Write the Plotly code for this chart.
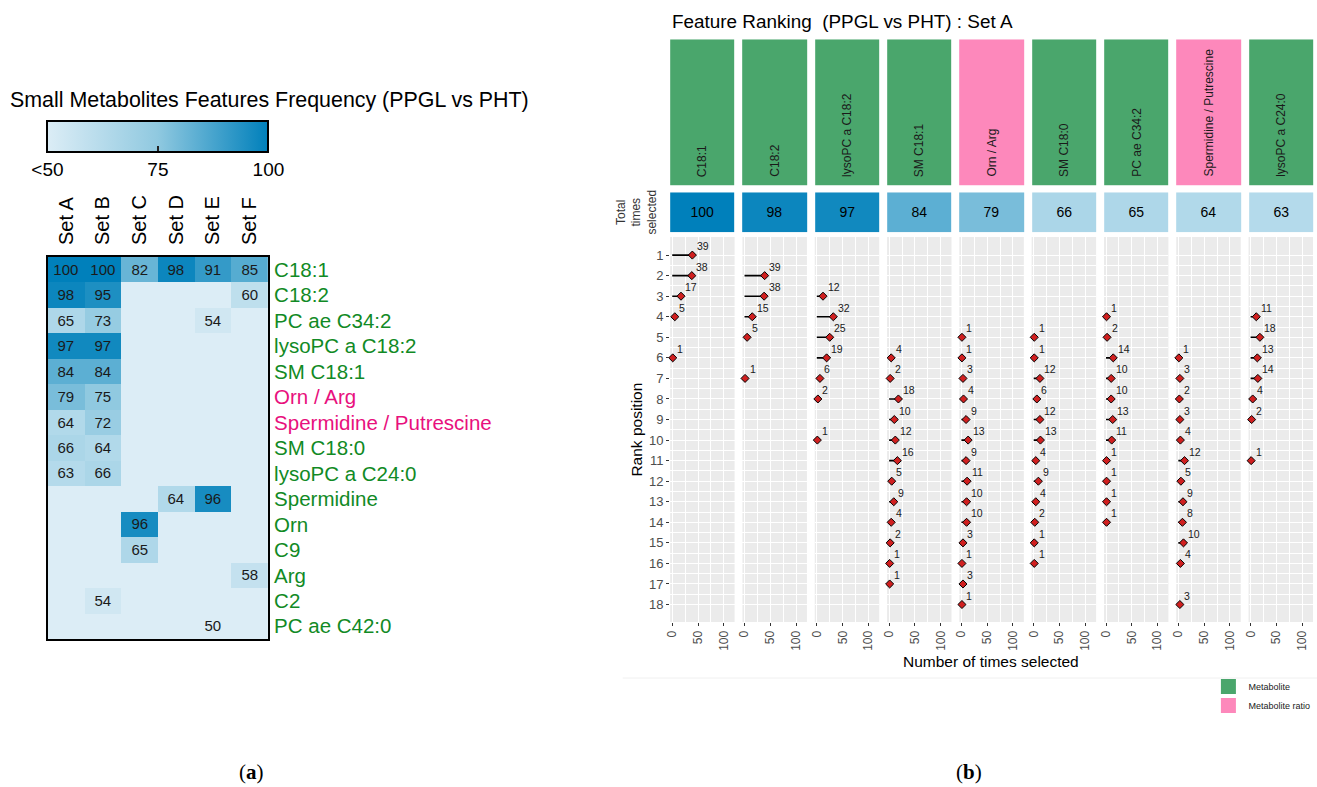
import plotly.graph_objects as go
import numpy as np

W, H = 1317, 787
FONT = "Liberation Sans"

# ---------------- Panel (a): heatmap data ----------------
sets = ["Set A", "Set B", "Set C", "Set D", "Set E", "Set F"]
features = ["C18:1", "C18:2", "PC ae C34:2", "lysoPC a C18:2", "SM C18:1", "Orn / Arg",
            "Spermidine / Putrescine", "SM C18:0", "lysoPC a C24:0", "Spermidine", "Orn",
            "C9", "Arg", "C2", "PC ae C42:0"]
ratio_features = ["Orn / Arg", "Spermidine / Putrescine"]
set_a = [100, 98, 65, 97, 84, 79, 64, 66, 63, None, None, None, None, None, None]
set_b = [100, 95, 73, 97, 84, 75, 72, 64, 66, None, None, None, None, 54, None]
set_c = [82, None, None, None, None, None, None, None, None, None, 96, 65, None, None, None]
set_d = [98, None, None, None, None, None, None, None, None, 64, None, None, None, None, None]
set_e = [91, None, 54, None, None, None, None, None, None, 96, None, None, None, None, 50]
set_f = [85, 60, None, None, None, None, None, None, None, None, None, None, 58, None, None]
colorbar_ticks = [50, 75, 100]
colorbar_ticktext = ["&lt;50", "75", "100"]

# ---------------- Panel (b): ranking data ----------------
facets = ["C18:1", "C18:2", "lysoPC a C18:2", "SM C18:1", "Orn / Arg", "SM C18:0",
          "PC ae C34:2", "Spermidine / Putrescine", "lysoPC a C24:0"]
facet_types = ["Metabolite", "Metabolite", "Metabolite", "Metabolite", "Metabolite ratio",
               "Metabolite", "Metabolite", "Metabolite ratio", "Metabolite"]
totals = [100, 98, 97, 84, 79, 66, 65, 64, 63]
ranks_c18_1 = [1, 2, 3, 4, 6]
counts_c18_1 = [39, 38, 17, 5, 1]
ranks_c18_2 = [2, 3, 4, 5, 7]
counts_c18_2 = [39, 38, 15, 5, 1]
ranks_lyso_c18_2 = [3, 4, 5, 6, 7, 8, 10]
counts_lyso_c18_2 = [12, 32, 25, 19, 6, 2, 1]
ranks_sm_c18_1 = [6, 7, 8, 9, 10, 11, 12, 13, 14, 15, 16, 17]
counts_sm_c18_1 = [4, 2, 18, 10, 12, 16, 5, 9, 4, 2, 1, 1]
ranks_orn_arg = [5, 6, 7, 8, 9, 10, 11, 12, 13, 14, 15, 16, 17, 18]
counts_orn_arg = [1, 1, 3, 4, 9, 13, 9, 11, 10, 10, 3, 1, 3, 1]
ranks_sm_c18_0 = [5, 6, 7, 8, 9, 10, 11, 12, 13, 14, 15, 16]
counts_sm_c18_0 = [1, 1, 12, 6, 12, 13, 4, 9, 4, 2, 1, 1]
ranks_pc_ae_c34_2 = [4, 5, 6, 7, 8, 9, 10, 11, 12, 13, 14]
counts_pc_ae_c34_2 = [1, 2, 14, 10, 10, 13, 11, 1, 1, 1, 1]
ranks_spd_put = [6, 7, 8, 9, 10, 11, 12, 13, 14, 15, 16, 18]
counts_spd_put = [1, 3, 2, 3, 4, 12, 5, 9, 8, 10, 4, 3]
ranks_lyso_c24_0 = [4, 5, 6, 7, 8, 9, 11]
counts_lyso_c24_0 = [11, 18, 13, 14, 4, 2, 1]
rank_ticks = list(range(1, 19))
count_ticks = [0, 50, 100]

facet_ranks = [ranks_c18_1, ranks_c18_2, ranks_lyso_c18_2, ranks_sm_c18_1, ranks_orn_arg,
               ranks_sm_c18_0, ranks_pc_ae_c34_2, ranks_spd_put, ranks_lyso_c24_0]
facet_counts = [counts_c18_1, counts_c18_2, counts_lyso_c18_2, counts_sm_c18_1, counts_orn_arg,
                counts_sm_c18_0, counts_pc_ae_c34_2, counts_spd_put, counts_lyso_c24_0]

# ---------------- styles ----------------
CS = [[0, "#dcedf6"], [0.5, "#90c9e0"], [1, "#0080bb"]]
GREEN_TXT = "#118a25"
PINK_TXT = "#e8107d"
STRIP_COL = {"Metabolite": "#4aa66c", "Metabolite ratio": "#fd88bb"}


def px(x):
    return x / W


def py(y):
    return 1 - y / H


fig = go.Figure()
layout = dict(width=W, height=H, margin=dict(l=0, r=0, t=0, b=0),
              paper_bgcolor="white", plot_bgcolor="white",
              font=dict(family=FONT, color="black"), showlegend=True)
annotations = []
shapes = []

# ---------------- heatmap (a) ----------------
cols = [set_a, set_b, set_c, set_d, set_e, set_f]
zr = np.array([[np.nan if v is None else v for v in c] for c in cols], dtype=float).T
z_disp = np.where(np.isnan(zr), colorbar_ticks[0], zr)
txt = [["" if np.isnan(v) else str(int(v)) for v in row] for row in zr]

fig.add_trace(go.Heatmap(
    x=sets, y=features, z=z_disp, text=txt, texttemplate="%{text}",
    textfont=dict(size=15, color="#1a1a1a", family=FONT),
    colorscale=CS, zmin=50, zmax=100, hoverinfo="skip", showlegend=False,
    xaxis="x", yaxis="y",
    colorbar=dict(orientation="h", x=px(153.5), xanchor="center", y=py(120.5), yanchor="top",
                  len=221, lenmode="pixels", thickness=31, thicknessmode="pixels",
                  xpad=0, ypad=0, outlinewidth=2, outlinecolor="black",
                  tickvals=colorbar_ticks, ticktext=colorbar_ticktext,
                  ticks="inside", ticklen=7, tickwidth=2, tickcolor="#222",
                  tickfont=dict(size=19, family=FONT, color="black"))
))
row_text = [f'<span style="color:{PINK_TXT if f in ratio_features else GREEN_TXT}">{f}</span>'
            for f in features]
layout["xaxis"] = dict(domain=[px(43), px(264)], anchor="y", side="top", type="category",
                       tickangle=-90, tickfont=dict(size=20, family=FONT, color="black"),
                       showgrid=False, zeroline=False, ticks="", ticklabelstandoff=6,
                       showline=True, mirror=True, linewidth=2, linecolor="black")
layout["yaxis"] = dict(domain=[py(639), py(257)], anchor="x", side="right", type="category",
                       autorange="reversed", tickvals=features, ticktext=row_text,
                       tickfont=dict(size=20.5, family=FONT), showgrid=False, zeroline=False,
                       ticks="", ticklabelstandoff=0,
                       showline=True, mirror=True, linewidth=2, linecolor="black")
annotations.append(dict(text="Small Metabolites Features Frequency (PPGL vs PHT)",
                        x=px(266), y=py(100), xref="paper", yref="paper", showarrow=False,
                        xanchor="center", yanchor="middle",
                        font=dict(size=21.4, family=FONT, color="black")))

# ---------------- ranking facets (b) ----------------
X0, STEP, FW = 667.7, 72.575, 64.7
for k in range(9):
    n = k + 2
    xa, ya = f"x{n}", f"y{n}"
    x0 = X0 + k * STEP
    r, c = facet_ranks[k], facet_counts[k]
    sx, sy = [], []
    for ri, ci in zip(r, c):
        sx += [0, ci, None]
        sy += [ri, ri, None]
    fig.add_trace(go.Scatter(x=sx, y=sy, mode="lines", line=dict(color="black", width=1.6),
                             hoverinfo="skip", showlegend=False, xaxis=xa, yaxis=ya))
    fig.add_trace(go.Scatter(x=c, y=r, mode="markers",
                             marker=dict(symbol="diamond", size=6.2, color="#d01f1f",
                                         line=dict(color="black", width=1)),
                             cliponaxis=False, hoverinfo="skip", showlegend=False,
                             xaxis=xa, yaxis=ya))
    for ri, ci in zip(r, c):
        annotations.append(dict(text=str(ci), x=ci, y=ri, xref=xa, yref=ya, showarrow=False,
                                xanchor="left", yanchor="middle", xshift=2.5, yshift=9,
                                font=dict(size=10.5, color="#1a1a1a", family=FONT)))
    layout[f"xaxis{n}"] = dict(domain=[px(x0), px(x0 + FW)], anchor=ya, range=[-4, 121],
                               tickvals=count_ticks, tickangle=-90,
                               tickfont=dict(size=12, color="#4d4d4d", family=FONT),
                               ticks="outside", ticklen=3, tickcolor="#333", tickwidth=1,
                               showgrid=True, gridcolor="white", gridwidth=1.2, zeroline=False,
                               minor=dict(tickvals=[25, 75], showgrid=True, gridcolor="white",
                                          gridwidth=0.6, ticks=""))
    layout[f"yaxis{n}"] = dict(domain=[py(622), py(237)], anchor=xa, range=[18.85, 0.12],
                               tickvals=rank_ticks, showticklabels=(k == 0),
                               tickfont=dict(size=13, color="#4d4d4d", family=FONT),
                               ticks="outside" if k == 0 else "", ticklen=3, tickcolor="#333",
                               showgrid=True, gridcolor="white", gridwidth=1.2, zeroline=False,
                               minor=dict(tickvals=[v + 0.5 for v in rank_ticks[:-1]],
                                          showgrid=True, gridcolor="white", gridwidth=0.6,
                                          ticks=""))
    shapes.append(dict(type="rect", xref=f"{xa} domain", yref=f"{ya} domain", x0=0, x1=1,
                       y0=0, y1=1, fillcolor="#ebebeb", line=dict(width=0), layer="below"))

# strips (feature type colour)
type_code = [0 if t == "Metabolite" else 1 for t in facet_types]
fig.add_trace(go.Heatmap(z=[type_code], x=list(range(9)), y=[0],
                         colorscale=[[0, STRIP_COL["Metabolite"]], [0.5, STRIP_COL["Metabolite"]],
                                     [0.5, STRIP_COL["Metabolite ratio"]], [1, STRIP_COL["Metabolite ratio"]]],
                         zmin=0, zmax=1, showscale=False, xgap=8, hoverinfo="skip",
                         showlegend=False, xaxis="x11", yaxis="y11"))
layout["xaxis11"] = dict(domain=[px(X0 - 4), 1], anchor="y11", visible=False, range=[-0.5, 8.5])
layout["yaxis11"] = dict(domain=[py(185.7), py(39.3)], anchor="x11", visible=False, range=[-0.5, 0.5])
for i, f in enumerate(facets):
    annotations.append(dict(text=f, x=i, xref="x11", y=py(179), yref="paper", showarrow=False,
                            textangle=-90, xanchor="center", yanchor="bottom",
                            font=dict(size=12, color="#1a1a1a", family=FONT)))

# total times selected boxes
fig.add_trace(go.Heatmap(z=[totals], x=list(range(9)), y=[0], colorscale=CS, zmin=50, zmax=100,
                         showscale=False, xgap=8, texttemplate="%{z}",
                         textfont=dict(size=14, color="black", family=FONT),
                         hoverinfo="skip", showlegend=False, xaxis="x12", yaxis="y12"))
layout["xaxis12"] = dict(domain=[px(X0 - 4), 1], anchor="y12", visible=False, range=[-0.5, 8.5])
layout["yaxis12"] = dict(domain=[py(232.3), py(192.3)], anchor="x12", visible=False, range=[-0.5, 0.5])

annotations.append(dict(text="Total<br>times<br>selected", x=px(634), y=py(212), xref="paper",
                        yref="paper", showarrow=False, textangle=-90, xanchor="center",
                        yanchor="middle", align="center",
                        font=dict(size=12, color="#333", family=FONT)))
annotations.append(dict(text="Rank position", x=px(633), y=py(430), xref="paper", yref="paper",
                        showarrow=False, textangle=-90, xanchor="center", yanchor="middle",
                        font=dict(size=15.5, color="black", family=FONT)))
annotations.append(dict(text="Number of times selected", x=px(990), y=py(661), xref="paper",
                        yref="paper", showarrow=False, xanchor="center", yanchor="middle",
                        font=dict(size=15.5, color="black", family=FONT)))
annotations.append(dict(text="Feature Ranking \u00a0(PPGL vs PHT) : Set A", x=px(668), y=py(22),
                        xref="paper", yref="paper", showarrow=False, xanchor="left",
                        yanchor="middle", font=dict(size=18.9, color="black", family=FONT)))

# separator line above legend
shapes.append(dict(type="line", xref="paper", yref="paper", x0=px(620), x1=1, y0=py(678),
                   y1=py(678), line=dict(color="#f0f0f0", width=1)))

# legend entries
for t in ["Metabolite", "Metabolite ratio"]:
    fig.add_trace(go.Scatter(x=[None], y=[None], mode="markers", name=t,
                             marker=dict(symbol="square", size=15, color=STRIP_COL[t]),
                             showlegend=True, xaxis="x2", yaxis="y2"))
layout["legend"] = dict(x=px(1208), y=py(672), xanchor="left", yanchor="top",
                        font=dict(size=9, family=FONT, color="#1a1a1a"),
                        bgcolor="rgba(0,0,0,0)", tracegroupgap=0, itemwidth=30)

# captions
annotations.append(dict(text="(<b>a</b>)", x=px(247), y=py(772), xref="paper", yref="paper",
                        showarrow=False, xanchor="center", yanchor="middle",
                        font=dict(size=21, family="Liberation Serif", color="black")))
annotations.append(dict(text="(<b>b</b>)", x=px(968), y=py(772), xref="paper", yref="paper",
                        showarrow=False, xanchor="center", yanchor="middle",
                        font=dict(size=21, family="Liberation Serif", color="black")))

layout["annotations"] = annotations
layout["shapes"] = shapes
fig.update_layout(**layout)
fig.write_html("out.html",
               config={"displayModeBar": False, "responsive": False},
               post_script="document.body.style.margin='0px';"
                           "document.documentElement.style.overflow='hidden';")
